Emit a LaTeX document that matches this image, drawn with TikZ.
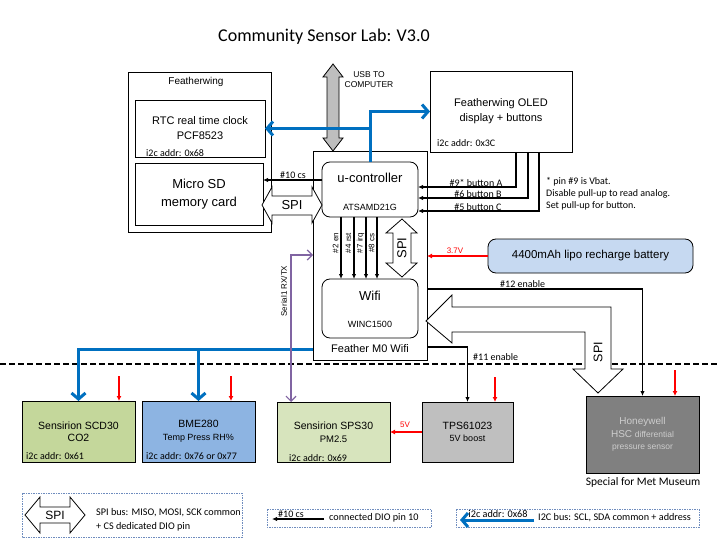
\documentclass[tikz,border=0pt]{standalone}
\usepackage{fontspec}
\setmainfont{Liberation Sans}
\newfontfamily\calfont{Carlito}
\usetikzlibrary{arrows.meta}

\definecolor{busblue}{RGB}{0,112,192}
\definecolor{serpurple}{RGB}{128,100,162}
\definecolor{pwrred}{RGB}{255,0,0}
\definecolor{battblue}{RGB}{198,217,241}
\definecolor{scdgreen}{RGB}{196,215,155}
\definecolor{bmeblue}{RGB}{141,180,226}
\definecolor{spsgreen}{RGB}{215,228,189}
\definecolor{tpsgray}{RGB}{191,191,191}
\definecolor{hscgray}{RGB}{128,128,128}
\definecolor{hsctext}{RGB}{205,205,205}
\definecolor{usbgray}{RGB}{190,190,190}
\definecolor{legline}{RGB}{110,140,190}

\begin{document}
\begin{tikzpicture}[x=1pt,y=-1pt,line join=miter]
	\tikzstyle{box}=[draw,line width=0.8pt,inner sep=0pt,outer sep=0pt,align=center];
	\tikzstyle{rbox}=[box,rounded corners=8pt];
	\tikzstyle{addr}=[font=\calfont\fontsize{10}{11}\selectfont,inner sep=0pt,anchor=west];
	\tikzstyle{lab}=[font=\calfont\fontsize{10}{11}\selectfont,inner sep=1pt];
	\tikzstyle{leglab}=[font=\calfont\fontsize{10.2}{11}\selectfont,inner sep=1pt];
	\tikzstyle{pinlab}=[font=\fontsize{8}{9}\selectfont,rotate=90,inner sep=0pt];
	\tikzstyle{sig}=[line width=1.2pt,-{Latex[length=5pt,width=4.5pt]}];
	\tikzstyle{bus}=[line width=3pt,draw=busblue,-{Straight Barb[length=6pt,width=14pt]}];
	\tikzstyle{pwr}=[line width=1.4pt,draw=pwrred,-{Latex[length=5pt,width=5pt]}];
	\tikzstyle{ser}=[line width=1.2pt,draw=serpurple,{Straight Barb[length=5pt,width=10pt]}-{Straight Barb[length=5pt,width=10pt]}];
	\tikzstyle{fat}=[draw,line width=0.8pt,fill=white];
	\tikzstyle{legbox}=[draw=legline,line width=0.8pt,dash pattern=on 1.5pt off 1pt];

	\useasboundingbox (0,0) rectangle (720,540);
	\fill[white] (0,0) rectangle (720,540);

	\node[font=\calfont\fontsize{18}{21}\selectfont] (title) at (324,37) {Community Sensor Lab: V3.0};

	% featherwing with rtc + sd
	\node[box,minimum width=143,minimum height=160] (fwing) at (199.5,152) {};
	\node[font=\fontsize{10}{12}\selectfont] (fwingtxt) at (196,82) {Featherwing};
	\node[box,minimum width=130,minimum height=57,font=\fontsize{11}{15}\selectfont] (rtc) at (200,128.5) {RTC real time clock\\PCF8523};
	\node[addr] (rtcaddr) at (146,153) {i2c addr: 0x68};
	\node[box,minimum width=128,minimum height=62,font=\fontsize{13}{18}\selectfont] (sd) at (199,194) {Micro SD\\memory card};

	% oled
	\node[box,minimum width=142,minimum height=81,font=\fontsize{11}{15}\selectfont] (oled) at (501,111.5) {Featherwing OLED\\display + buttons};
	\node[addr] (oledaddr) at (437,143) {i2c addr: 0x3C};

	% feather m0
	\node[box,minimum width=114,minimum height=209] (feather) at (370,255.5) {};
	\node[font=\fontsize{11}{13}\selectfont] (feathertxt) at (370,349) {Feather M0 Wifi};
	\node[rbox,minimum width=96,minimum height=55] (uc) at (370,189.5) {};
	\node[font=\fontsize{13}{15}\selectfont] (uctxt) at (370,178) {u-controller};
	\node[font=\fontsize{9}{11}\selectfont] (ucchip) at (370,207) {ATSAMD21G};
	\node[rbox,minimum width=96,minimum height=59] (wifi) at (370,308.5) {};
	\node[font=\fontsize{13}{15}\selectfont] (wifitxt) at (370,296) {Wifi};
	\node[font=\fontsize{9}{11}\selectfont] (wifichip) at (370,324) {WINC1500};

	% usb
	\draw[fat,fill=usbgray] (333,64) -- (343,77) -- (339,77) -- (339,138) -- (343,138) -- (333,151)
		-- (323,138) -- (327,138) -- (327,77) -- (323,77) -- cycle;
	\node[font=\fontsize{8.5}{9.5}\selectfont,align=center] (usbtxt) at (369,79.5) {USB TO\\COMPUTER};

	% i2c bus up
	\draw[bus] (uc.north) |- (oled.west);
	\draw[bus] (uc.north) |- (rtc.east);

	% cs and spi to sd
	\coordinate (cs10) at (0,180);
	\draw[sig] (uc.west |- cs10) -- (sd.east |- cs10);
	\node[lab,anchor=south] (cs10txt) at (293,180) {\#10 cs};
	\draw[fat] (262,205) -- (272,187) -- (272,196) -- (312,196) -- (312,187) -- (322,205)
		-- (312,223) -- (312,215) -- (272,215) -- (272,223) -- cycle;
	\node[font=\fontsize{13}{15}\selectfont] (spisd) at (292,205.5) {SPI};

	% buttons
	\coordinate (btnA) at (516,187);
	\coordinate (btnB) at (528,198);
	\coordinate (btnC) at (539,211);
	\draw[sig] (btnA |- oled.south) |- (uc.east |- btnA);
	\draw[sig] (btnB |- oled.south) |- (uc.east |- btnB);
	\draw[sig] (btnC |- oled.south) |- (uc.east |- btnC);
	\node[lab,anchor=south] (btnAtxt) at (476,187.5) {\#9* button A};
	\node[lab,anchor=south] (btnBtxt) at (478,198.5) {\#6 button B};
	\node[lab,anchor=south] (btnCtxt) at (478,211.5) {\#5 button C};
	\node[lab,anchor=west] (note1) at (545,182) {* pin \#9 is Vbat.};
	\node[lab,anchor=west] (note2) at (545,194) {Disable pull-up to read analog.};
	\node[lab,anchor=west] (note3) at (545,206) {Set pull-up for button.};

	% pins to wifi
	\foreach \px/\lab in {341/{\#2 en},354/{\#4 rst},366/{\#7 irq},377/{\#8 cs}} {
		\coordinate (pin) at (\px,0);
		\draw[sig] (pin |- uc.south) -- (pin |- wifi.north);
		\node[pinlab] (pl\px) at (\px-5.5,243) {\lab};
	}
	\draw[fat] (402,219) -- (417,233) -- (411,233) -- (411,263) -- (417,263) -- (402,277)
		-- (386,263) -- (393,263) -- (393,233) -- (386,233) -- cycle;
	\node[font=\fontsize{13}{15}\selectfont,rotate=90] (spiwifi) at (402,248) {SPI};

	% battery
	\node[rbox,fill=battblue,minimum width=205,minimum height=34,font=\fontsize{11.5}{13}\selectfont] (batt) at (590.5,256) {4400mAh lipo recharge battery};
	\draw[pwr] (batt.west) -- (feather.east |- batt.west);
	\node[font=\fontsize{8}{9}\selectfont,text=pwrred,inner sep=0.5pt,anchor=south] (v37) at (455,254) {3.7V};

	% serial
	\coordinate (ser) at (291,255);

	% divider
	\draw[line width=1.6pt,dash pattern=on 6pt off 3pt] (0,364) -- (720,364);

	% sensors
	\node[box,fill=scdgreen,minimum width=113,minimum height=61,font=\fontsize{10.5}{12}\selectfont] (scd) at (78.5,431.5) {Sensirion SCD30\\CO2};
	\node[addr] (scdaddr) at (26,456) {i2c addr: 0x61};
	\node[box,fill=bmeblue,minimum width=113,minimum height=61,font=\fontsize{10.5}{12.5}\selectfont] (bme) at (198.5,431.5) {BME280\\{\fontsize{9}{11}\selectfont Temp Press RH\%}};
	\node[addr] (bmeaddr) at (146,456) {i2c addr: 0x76 or 0x77};
	\node[box,fill=spsgreen,minimum width=113,minimum height=60,font=\fontsize{10.5}{12.5}\selectfont] (sps) at (333.5,432) {Sensirion SPS30\\{\fontsize{9.5}{11}\selectfont PM2.5}};
	\node[addr] (spsaddr) at (289,458) {i2c addr: 0x69};
	\node[box,fill=tpsgray,minimum width=91,minimum height=60,font=\fontsize{10.5}{12.5}\selectfont] (tps) at (467.5,432) {TPS61023\\{\fontsize{9}{11}\selectfont 5V boost}};
	\node[box,fill=hscgray,text=hsctext,minimum width=113,minimum height=77,font=\fontsize{10}{12.5}\selectfont] (hsc) at (642.5,434.5) {Honeywell\\HSC {\fontsize{8.5}{10}\selectfont differential}\\{\fontsize{8.5}{10}\selectfont pressure sensor}};
	\node[font=\calfont\fontsize{11.5}{13}\selectfont] (met) at (643,482) {Special for Met Museum};

	% i2c bus down
	\coordinate (busy) at (0,349);
	\draw[bus] (feather.west |- busy) -| (scd.north);
	\draw[bus] (bme.north |- busy) -- (bme.north);
	\draw[ser] (feather.west |- ser) -- (ser) -- (ser |- sps.north);
	\node[pinlab] (sertxt) at (284,291) {Serial1 RX/TX};

	% power
	\coordinate (scdp) at (119,376);
	\coordinate (bmep) at (231,376);
	\coordinate (tpsp) at (495,377);
	\coordinate (hscp) at (675,370);
	\draw[pwr] (scdp) -- (scdp |- scd.north);
	\draw[pwr] (bmep) -- (bmep |- bme.north);
	\draw[pwr] (tpsp) -- (tpsp |- tps.north);
	\draw[pwr] (hscp) -- (hscp |- hsc.north);
	\draw[pwr] (tps.west) -- (sps.east);
	\node[font=\fontsize{8}{9}\selectfont,text=pwrred,inner sep=0.5pt,anchor=south] (v5) at (405,428) {5V};

	% enables
	\coordinate (en11) at (0,347);
	\coordinate (en12) at (0,289);
	\draw[sig] (feather.east |- en11) -| (tps.north);
	\draw[sig] (feather.east |- en12) -| (hsc.north);
	\node[lab,anchor=west] (en11txt) at (472,357) {\#11 enable};
	\node[lab,anchor=south west] (en12txt) at (499,289) {\#12 enable};

	% spi to hsc
	\draw[fat] (426,321) -- (452,295) -- (452,307) -- (611,307) -- (611,369) -- (623,369) -- (598,393)
		-- (573,369) -- (585,369) -- (585,332) -- (452,332) -- (452,343) -- cycle;
	\node[font=\fontsize{12.5}{15}\selectfont,rotate=90] (spihsc) at (598,352) {SPI};

	% legend
	\draw[legbox] (22,493) rectangle (242,537);
	\draw[fat] (25,515) -- (40,497) -- (40,507) -- (70,507) -- (70,497) -- (85,515)
		-- (70,533) -- (70,523) -- (40,523) -- (40,533) -- cycle;
	\node[font=\fontsize{12}{14}\selectfont] (legspi) at (55,515.5) {SPI};
	\node[leglab,anchor=west] (legspi1) at (95,513) {SPI bus: MISO, MOSI, SCK common};
	\node[leglab,anchor=west] (legspi2) at (95,527) {+ CS dedicated DIO pin};

	\draw[legbox] (267,509) rectangle (431,527);
	\coordinate (legcsa) at (324,519);
	\coordinate (legcsb) at (272,519);
	\draw[sig] (legcsa) -- (legcsb);
	\node[lab,anchor=south] (legcs) at (291,519) {\#10 cs};
	\node[leglab,anchor=west] (legcstxt) at (328,517.5) {connected DIO pin 10};

	\draw[legbox] (456,509) rectangle (699,527);
	\coordinate (legi2a) at (534,520);
	\coordinate (legi2b) at (460,520);
	\draw[bus] (legi2a) -- (legi2b);
	\node[leglab,anchor=south] (legi2) at (498,518.5) {i2c addr: 0x68};
	\node[leglab,anchor=west] (legi2txt) at (537,517.5) {I2C bus: SCL, SDA common + address};
\end{tikzpicture}
\end{document}
